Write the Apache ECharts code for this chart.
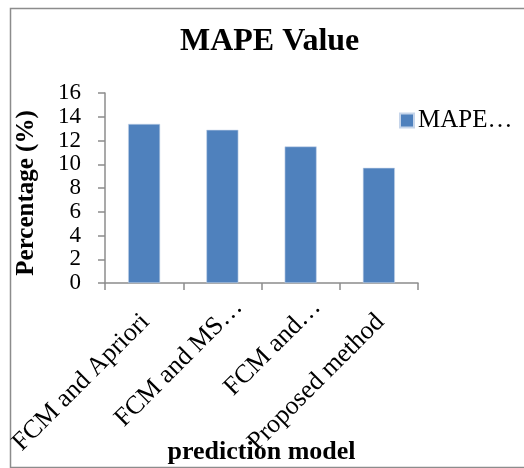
<!DOCTYPE html>
<html><head><meta charset="utf-8">
<script src="https://cdn.jsdelivr.net/npm/echarts@6/dist/echarts.min.js"></script>
<style>html,body{margin:0;padding:0;background:#fff}#c{width:524px;height:468px}</style>
</head><body><div id="c"></div>
<script>
const categories = ['FCM and Apriori', 'FCM and MS…', 'FCM and…', 'Proposed method'];
const mapeValues = [13.4, 12.9, 11.5, 9.7];
const seriesName = 'MAPE…';
const yTicks = {min: 0, max: 16, interval: 2};

const serif = '"Liberation Serif", "DejaVu Serif", serif';
const labelFont = {fontFamily: serif, fontSize: 26, color: '#000'};
const chart = echarts.init(document.getElementById('c'), null, {renderer: 'canvas'});
chart.setOption({
  animation: false,
  backgroundColor: '#fff',
  graphic: [{
    type: 'rect', left: 8, top: 6,
    shape: {width: 530, height: 459},
    style: {fill: 'none', stroke: '#8c8c8c', lineWidth: 1.5}
  }],
  title: {
    text: 'MAPE Value', left: 180, top: 26, padding: 0,
    textStyle: {fontFamily: serif, fontWeight: 'bold', fontSize: 32, color: '#000'}
  },
  legend: {
    left: 399, top: 108, padding: 0, icon: 'rect', itemWidth: 14, itemHeight: 14, itemGap: 4,
    textStyle: {fontFamily: serif, fontSize: 25, color: '#000', padding: [0, 0, 0, -1]}
  },
  grid: {left: 105, right: 106, top: 93, bottom: 185, containLabel: false, outerBoundsMode: 'none'},
  xAxis: {
    type: 'category', data: categories,
    name: 'prediction model', nameLocation: 'middle', nameGap: 156, nameMoveOverlap: false,
    nameTextStyle: {fontFamily: serif, fontWeight: 'bold', fontSize: 26, color: '#000'},
    axisLine: {lineStyle: {color: '#8c8c8c', width: 1.5}},
    axisTick: {show: true, length: 7, lineStyle: {color: '#8c8c8c', width: 1.5}},
    axisLabel: {
      rotate: 45, interval: 0, margin: 4, verticalAlign: 'top', padding: [10, 0, 0, 0],
      fontFamily: serif, fontSize: 26, color: '#000', hideOverlap: false,
      formatter: function (v) { return v.indexOf('…') >= 0 ? '{t|' + v + '}' : '{f|' + v + '}'; },
      rich: {
        f: Object.assign({padding: [0, 21, 0, 0]}, labelFont),
        t: Object.assign({padding: [0, 0, 0, 0]}, labelFont)
      }
    }
  },
  yAxis: {
    type: 'value', min: yTicks.min, max: yTicks.max, interval: yTicks.interval,
    name: 'Percentage (%)', nameLocation: 'middle', nameGap: 66, nameMoveOverlap: false,
    nameTextStyle: {fontFamily: serif, fontWeight: 'bold', fontSize: 25, color: '#000', padding: [0, 10, 0, 0]},
    axisLine: {show: true, lineStyle: {color: '#8c8c8c', width: 1.5}},
    axisTick: {show: true, length: 7, lineStyle: {color: '#8c8c8c', width: 1.5}},
    splitLine: {show: false},
    axisLabel: {margin: 24, fontFamily: serif, fontSize: 23, color: '#000', lineHeight: 18,
      showMinLabel: true, showMaxLabel: true, hideOverlap: false}
  },
  series: [{
    name: seriesName, type: 'bar', data: mapeValues, barWidth: 32,
    itemStyle: {color: '#4F81BD', borderColor: '#c6d5ea', borderWidth: 0.6}
  }]
});
</script></body></html>
